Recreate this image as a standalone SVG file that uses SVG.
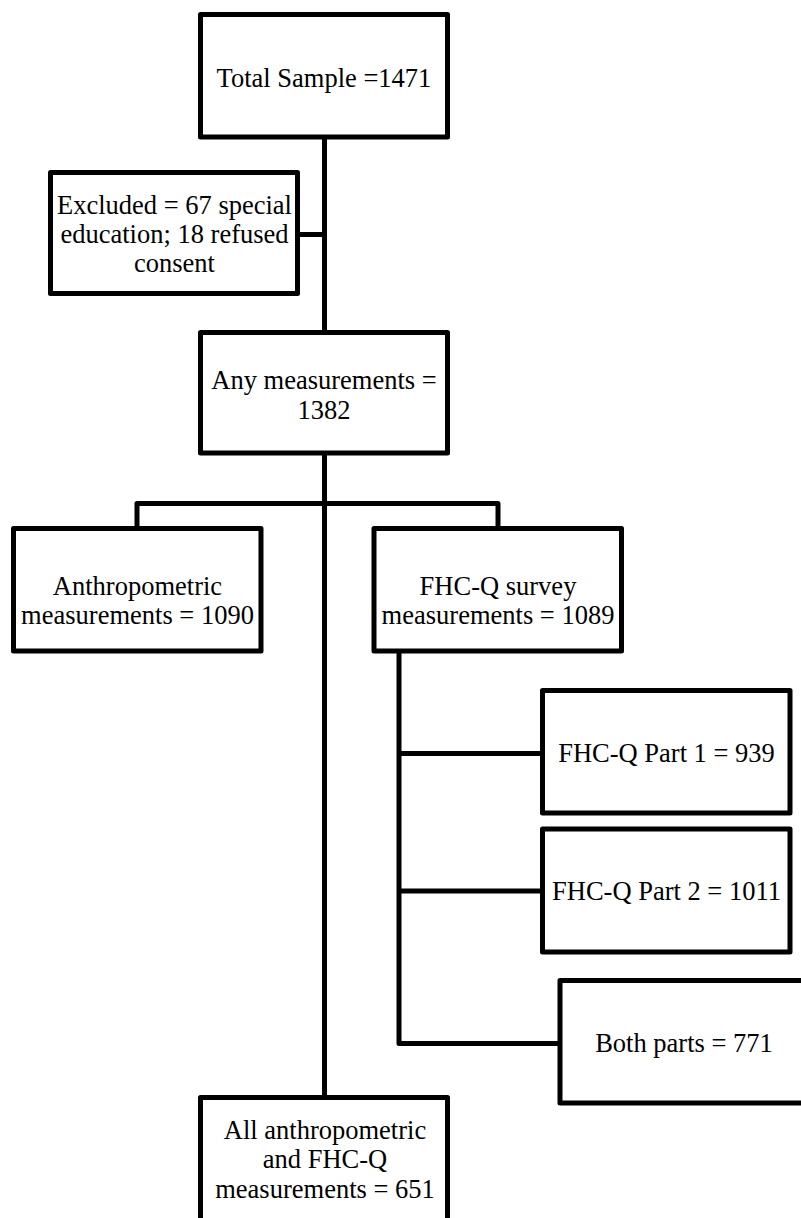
<svg xmlns="http://www.w3.org/2000/svg" width="801" height="1218" viewBox="0 0 801 1218">
<style>
.box{fill:#fff;stroke:#000;stroke-width:5;stroke-linejoin:round}
.ln{fill:none;stroke:#000;stroke-width:5;stroke-linejoin:round;stroke-linecap:butt}
text{font-family:"Liberation Serif","Times New Roman",serif;font-size:26.5px;fill:#000;text-anchor:middle}
</style>
<rect width="801" height="1218" fill="#fff"/>
<g id="connectors">
<path class="ln" d="M324.5,137 V1097"/>
<path class="ln" d="M298,234.5 H324.5"/>
<path class="ln" d="M137,528 V503.5 H498 V528"/>
<path class="ln" d="M399,652 V1043.5 H560"/>
<path class="ln" d="M399,753.5 H542"/>
<path class="ln" d="M399,891 H542"/>
</g>
<g id="n-total">
<rect class="box" x="200.5" y="14.5" width="247" height="122.5"/>
<text x="324" y="86.5">Total Sample =1471</text>
</g>
<g id="n-excluded">
<rect class="box" x="50.5" y="172.5" width="247" height="121"/>
<text x="174.5" y="213.5">Excluded = 67 special</text>
<text x="174.5" y="243">education; 18 refused</text>
<text x="174.5" y="272">consent</text>
</g>
<g id="n-any">
<rect class="box" x="200.5" y="332.5" width="247" height="120.5"/>
<text x="324" y="389">Any measurements =</text>
<text x="324" y="418.5">1382</text>
</g>
<g id="n-anthro">
<rect class="box" x="13.5" y="528.5" width="247.5" height="122.5"/>
<text x="137.5" y="595">Anthropometric</text>
<text x="137.5" y="623.5">measurements = 1090</text>
</g>
<g id="n-fhcq">
<rect class="box" x="374" y="528.5" width="247.5" height="122.5"/>
<text x="498" y="595">FHC-Q survey</text>
<text x="498" y="623.5">measurements = 1089</text>
</g>
<g id="n-part1">
<rect class="box" x="542.5" y="690.5" width="247.5" height="122.5"/>
<text x="666.5" y="761.5">FHC-Q Part 1 = 939</text>
</g>
<g id="n-part2">
<rect class="box" x="542.5" y="829" width="247.5" height="123"/>
<text x="666.5" y="899.5">FHC-Q Part 2 = 1011</text>
</g>
<g id="n-both">
<rect class="box" x="560" y="980.5" width="248" height="122.5"/>
<text x="684" y="1051.5">Both parts = 771</text>
</g>
<g id="n-all">
<rect class="box" x="200.5" y="1097.5" width="247" height="130"/>
<text x="325" y="1138.5">All anthropometric</text>
<text x="325" y="1168">and FHC-Q</text>
<text x="325" y="1197.5">measurements = 651</text>
</g>
</svg>
